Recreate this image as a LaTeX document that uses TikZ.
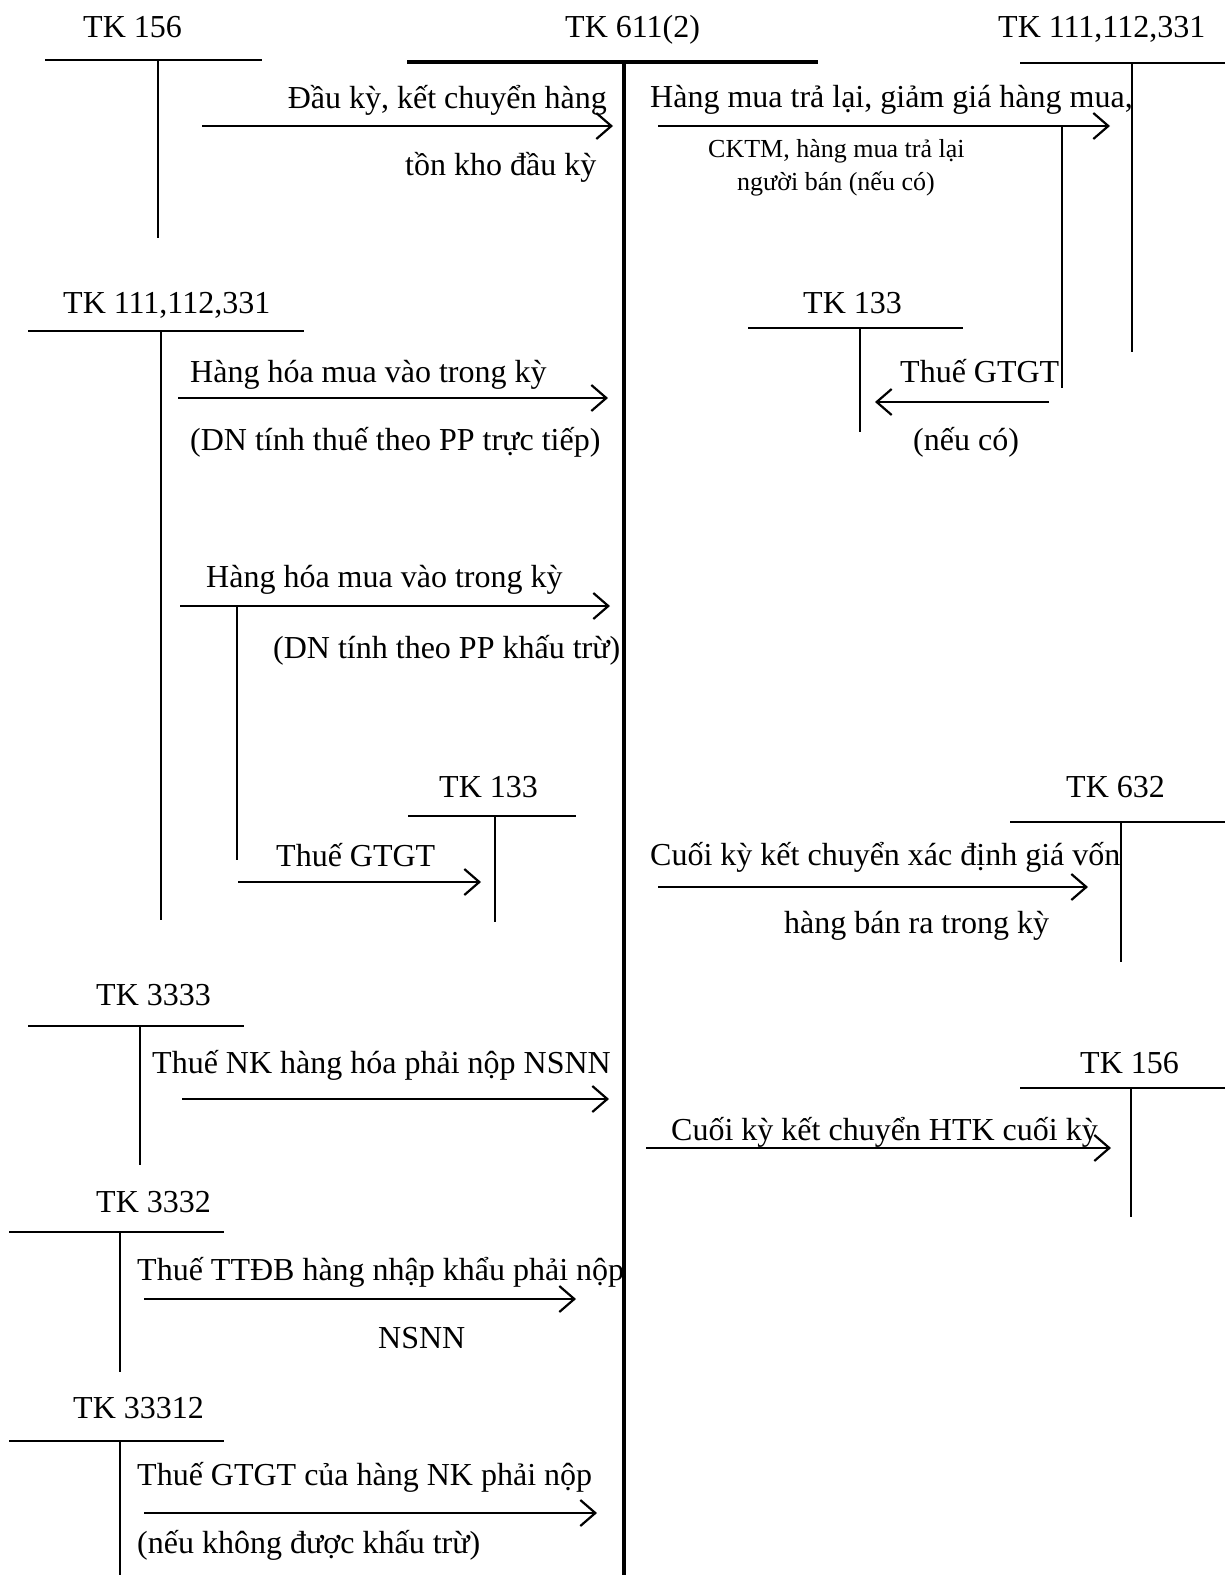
\documentclass[tikz,border=0pt]{standalone}
\usepackage{fontspec}
\setmainfont{Liberation Serif}
\usetikzlibrary{arrows.meta}
\begin{document}
\begin{tikzpicture}[x=1pt,y=-1pt,
  tline/.style={line width=1.8pt},
  tthick/.style={line width=4.5pt},
  arr/.style={line width=2.2pt,-{Straight Barb[length=15pt,width=26pt,line width=2.2pt]}},
  lbl/.style={inner sep=0pt,anchor=base west,font=\fontsize{32}{38}\selectfont},
  lble/.style={inner sep=0pt,anchor=base east,font=\fontsize{32}{38}\selectfont},
  sml/.style={inner sep=0pt,anchor=base west,font=\fontsize{26}{30}\selectfont}]
\useasboundingbox (0,0) rectangle (1225,1575);

% ---------- central account TK 611(2)
\node[lbl] (l611) at (565,37) {TK 611(2)};
\coordinate (h611a) at (407,62); \coordinate (h611b) at (818,62);
\coordinate (v611a) at (624,62); \coordinate (v611b) at (624,1575);
\draw[tthick] (h611a) -- (h611b);
\draw[tthick] (v611a) -- (v611b);

% ---------- TK 156 (top left)
\node[lbl] (l156) at (83,37) {TK 156};
\coordinate (h156a) at (45,60); \coordinate (h156b) at (262,60);
\coordinate (v156a) at (158,60); \coordinate (v156b) at (158,238);
\draw[tline] (h156a) -- (h156b);
\draw[tline] (v156a) -- (v156b);
\coordinate (a1s) at (202,126); \coordinate (a1e) at (613,126);
\draw[arr] (a1s) -- (a1e);
\node[lble] (t1a) at (607,108) {Đầu kỳ, kết chuyển hàng};
\node[lbl] (t1b) at (405,175) {tồn kho đầu kỳ};

% ---------- TK 111,112,331 (top right)
\node[lbl] (l111r) at (998,37) {TK 111,112,331};
\coordinate (h111ra) at (1020,63); \coordinate (h111rb) at (1225,63);
\coordinate (v111ra) at (1132,63); \coordinate (v111rb) at (1132,352);
\draw[tline] (h111ra) -- (h111rb);
\draw[tline] (v111ra) -- (v111rb);
\coordinate (a2s) at (658,126); \coordinate (a2e) at (1110,126);
\draw[arr] (a2s) -- (a2e);
\node[lbl] (t2a) at (650,107) {Hàng mua trả lại, giảm giá hàng mua,};
\node[sml] (t2b) at (708,157) {CKTM, hàng mua trả lại};
\node[sml] (t2c) at (737,190) {người bán (nếu có)};
\coordinate (b2a) at (1062,126); \coordinate (b2b) at (1062,388);
\draw[tline] (b2a) -- (b2b);
\coordinate (a3s) at (1049,402); \coordinate (a3e) at (875,402);
\draw[arr] (a3s) -- (a3e);
\node[lbl] (t3a) at (900,382) {Thuế GTGT};
\node[lbl] (t3b) at (913,450) {(nếu có)};

% ---------- TK 133 (upper right)
\node[lbl] (l133r) at (803,313) {TK 133};
\coordinate (h133ra) at (748,328); \coordinate (h133rb) at (963,328);
\coordinate (v133ra) at (860,328); \coordinate (v133rb) at (860,432);
\draw[tline] (h133ra) -- (h133rb);
\draw[tline] (v133ra) -- (v133rb);

% ---------- TK 111,112,331 (left)
\node[lbl] (l111l) at (63,313) {TK 111,112,331};
\coordinate (h111la) at (28,331); \coordinate (h111lb) at (304,331);
\coordinate (v111la) at (161,331); \coordinate (v111lb) at (161,920);
\draw[tline] (h111la) -- (h111lb);
\draw[tline] (v111la) -- (v111lb);
\coordinate (a4s) at (178,398); \coordinate (a4e) at (608,398);
\draw[arr] (a4s) -- (a4e);
\node[lbl] (t4a) at (190,382) {Hàng hóa mua vào trong kỳ};
\node[lbl] (t4b) at (190,450) {(DN tính thuế theo PP trực tiếp)};
\coordinate (a5s) at (180,606); \coordinate (a5e) at (610,606);
\draw[arr] (a5s) -- (a5e);
\node[lbl] (t5a) at (206,587) {Hàng hóa mua vào trong kỳ};
\node[lbl] (t5b) at (273,658) {(DN tính theo PP khấu trừ)};
\coordinate (b5a) at (237,606); \coordinate (b5b) at (237,860);
\draw[tline] (b5a) -- (b5b);

% ---------- TK 133 (left)
\node[lbl] (l133l) at (439,797) {TK 133};
\coordinate (h133la) at (408,816); \coordinate (h133lb) at (576,816);
\coordinate (v133la) at (495,816); \coordinate (v133lb) at (495,922);
\draw[tline] (h133la) -- (h133lb);
\draw[tline] (v133la) -- (v133lb);
\coordinate (a6s) at (238,882); \coordinate (a6e) at (481,882);
\draw[arr] (a6s) -- (a6e);
\node[lbl] (t6a) at (276,866) {Thuế GTGT};

% ---------- TK 632
\node[lbl] (l632) at (1066,797) {TK 632};
\coordinate (h632a) at (1010,822); \coordinate (h632b) at (1225,822);
\coordinate (v632a) at (1121,822); \coordinate (v632b) at (1121,962);
\draw[tline] (h632a) -- (h632b);
\draw[tline] (v632a) -- (v632b);
\coordinate (a7s) at (658,887); \coordinate (a7e) at (1088,887);
\draw[arr] (a7s) -- (a7e);
\node[lbl] (t7a) at (650,865) {Cuối kỳ kết chuyển xác định giá vốn};
\node[lbl] (t7b) at (784,933) {hàng bán ra trong kỳ};

% ---------- TK 3333
\node[lbl] (l3333) at (96,1005) {TK 3333};
\coordinate (h3333a) at (28,1026); \coordinate (h3333b) at (244,1026);
\coordinate (v3333a) at (140,1026); \coordinate (v3333b) at (140,1165);
\draw[tline] (h3333a) -- (h3333b);
\draw[tline] (v3333a) -- (v3333b);
\coordinate (a8s) at (182,1099); \coordinate (a8e) at (609,1099);
\draw[arr] (a8s) -- (a8e);
\node[lbl] (t8a) at (152,1073) {Thuế NK hàng hóa phải nộp NSNN};

% ---------- TK 156 (right)
\node[lbl] (l156r) at (1080,1073) {TK 156};
\coordinate (h156ra) at (1020,1088); \coordinate (h156rb) at (1225,1088);
\coordinate (v156ra) at (1131,1088); \coordinate (v156rb) at (1131,1217);
\draw[tline] (h156ra) -- (h156rb);
\draw[tline] (v156ra) -- (v156rb);
\coordinate (a9s) at (646,1148); \coordinate (a9e) at (1111,1148);
\draw[arr] (a9s) -- (a9e);
\node[lbl] (t9a) at (671,1140) {Cuối kỳ kết chuyển HTK cuối kỳ};

% ---------- TK 3332
\node[lbl] (l3332) at (96,1212) {TK 3332};
\coordinate (h3332a) at (9,1232); \coordinate (h3332b) at (224,1232);
\coordinate (v3332a) at (120,1232); \coordinate (v3332b) at (120,1372);
\draw[tline] (h3332a) -- (h3332b);
\draw[tline] (v3332a) -- (v3332b);
\coordinate (a10s) at (144,1299); \coordinate (a10e) at (576,1299);
\draw[arr] (a10s) -- (a10e);
\node[lbl] (t10a) at (137,1280) {Thuế TTĐB hàng nhập khẩu phải nộp};
\node[lbl] (t10b) at (378,1348) {NSNN};

% ---------- TK 33312
\node[lbl] (l33312) at (73,1418) {TK 33312};
\coordinate (h33312a) at (9,1441); \coordinate (h33312b) at (224,1441);
\coordinate (v33312a) at (120,1441); \coordinate (v33312b) at (120,1575);
\draw[tline] (h33312a) -- (h33312b);
\draw[tline] (v33312a) -- (v33312b);
\coordinate (a11s) at (144,1513); \coordinate (a11e) at (597,1513);
\draw[arr] (a11s) -- (a11e);
\node[lbl] (t11a) at (137,1485) {Thuế GTGT của hàng NK phải nộp};
\node[lbl] (t11b) at (137,1553) {(nếu không được khấu trừ)};
\end{tikzpicture}
\end{document}
